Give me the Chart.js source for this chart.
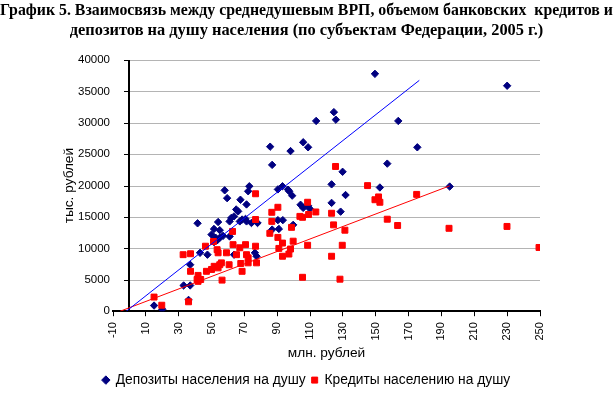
<!DOCTYPE html>
<html>
<head>
<meta charset="utf-8">
<script src="https://cdn.jsdelivr.net/npm/chart.js@4.4.0/dist/chart.umd.min.js"></script>
<style>
  html, body { margin: 0; padding: 0; background: #fff; }
</style>
</head>
<body>
<canvas id="chart" width="613" height="397"></canvas>
<script>
// Deposits per capita (x = GRP per capita, y = thousand rub)
const depX = [15, 20, 33, 37, 36, 37, 43, 47.5, 41.5, 50, 51.5, 55, 52.5, 55, 57, 61, 53.5, 51.5, 54,
  58, 59.5, 61, 62, 63.7, 65, 66.2, 67.6, 67.2, 68.6, 70.7, 71.3, 71.3, 72.3, 73, 74.3, 78, 63.7, 76.4, 77.4,
  85.7, 86.9, 90.4, 93.2, 96.6, 97.3, 99.1, 98.1, 105.8, 108.8, 113.7, 104.2, 105.8, 108.8, 109.9,
  90.4, 93.4, 99.7, 86.9, 91, 123.1, 123.1, 124.5, 125.7, 128.6, 129.8, 131.6, 149.5, 152.5, 157,
  163.7, 175.3, 195, 230];
const depY = [900, 300, 4100, 4100, 1800, 7400, 9300, 9000, 14000, 12200, 13100, 12900, 11700, 11700, 12000, 11900, 11300, 11000, 14200,
  19250, 18000, 14300, 14850, 15100, 16200, 15900, 17750, 14300, 14600, 14700, 14300, 17000, 19100, 19900, 14050, 14050, 9000, 9300, 8750,
  26200, 23300, 19400, 19900, 19350, 19100, 18400, 25500, 26900, 26100, 30300, 16950, 16450, 16800, 16300,
  14500, 14500, 13750, 13000, 13100, 20200, 17250, 31700, 30500, 15850, 22200, 18500, 37800, 19700, 23500,
  30300, 26100, 19850, 35900];

// Credits per capita
const credX = [15, 19.7, 36, 32.7, 37.2, 37.2, 41.8, 41.2, 43.4, 41.8, 46.3, 46.9, 50, 51.6, 54, 55, 56, 56.4,
  51.2, 53.4, 54, 59.1, 60.7, 63.1, 65.2, 67.2, 67.8, 68.6, 70.7, 71.3, 72.3, 72.3, 76.8, 77.4, 62.8, 76.8, 76.8,
  86.7, 86.7, 85.5, 90.4, 90.4, 93.2, 91, 98.1, 97.1, 93.2, 98.7, 99.7, 103.8, 105.4, 108.5, 109.1, 113.5, 108.5, 105.4,
  123.1, 124.3, 123.1, 125.5, 128.2, 129.6, 131.2, 145, 149.5, 151.7, 152.5, 157, 163.3, 174.9, 194.6, 229.9, 249.4];
const credY = [2250, 950, 1500, 9000, 9150, 6350, 5700, 5050, 5050, 4750, 10350, 6350, 6650, 7150, 6900, 7400, 7700, 4950,
  11100, 9800, 9300, 9300, 7400, 10600, 9000, 10100, 7600, 6350, 10600, 9000, 8500, 7700, 10350, 7700, 12700, 14600, 18700,
  15750, 14300, 12400, 16550, 11750, 10850, 10000, 9900, 9100, 8750, 13350, 11150, 15100, 14950, 17350, 15400, 15800, 10500, 5400,
  15600, 13750, 8750, 23050, 5100, 10500, 12900, 20000, 17750, 18200, 17350, 14650, 13650, 18600, 13200, 13500, 10150];

// linear trend lines (end points)
const trendDepX = [-1.9, 176.5];
const trendDepY = [0, 36760];
const trendCredX = [-5.6, 195];
const trendCredY = [0, 19960];

const xTicks = [-10, 10, 30, 50, 70, 90, 110, 130, 150, 170, 190, 210, 230, 250];

const toPoints = (xs, ys) => xs.map((x, i) => ({ x: x, y: ys[i] }));

// gridlines from x = 0 and the vertical axis crossing there
const zeroAxis = {
  id: 'zeroAxis',
  beforeDatasetsDraw(chart) {
    const { ctx, chartArea, scales: { x, y } } = chart;
    const x0 = Math.round(x.getPixelForValue(0));
    ctx.save();
    ctx.strokeStyle = '#b4b4b4';
    ctx.lineWidth = 1;
    y.ticks.forEach((t) => {
      if (t.value === 0) return;
      const py = Math.round(y.getPixelForValue(t.value)) + 0.5;
      ctx.beginPath();
      ctx.moveTo(x0, py);
      ctx.lineTo(chartArea.right, py);
      ctx.stroke();
    });
    ctx.strokeStyle = '#000';
    ctx.lineWidth = 2;
    ctx.beginPath();
    ctx.moveTo(x0, chartArea.bottom);
    ctx.lineTo(x0, chartArea.top);
    ctx.stroke();
    ctx.lineWidth = 1;
    y.ticks.forEach((t) => {
      const py = Math.round(y.getPixelForValue(t.value)) + 0.5;
      ctx.beginPath();
      ctx.moveTo(x0 - 5, py);
      ctx.lineTo(x0, py);
      ctx.stroke();
    });
    ctx.restore();
  }
};

const sans = 'Arial, "Liberation Sans", sans-serif';

new Chart(document.getElementById('chart'), {
  type: 'scatter',
  data: {
    datasets: [
      {
        label: 'Депозиты населения на душу',
        data: toPoints(depX, depY),
        pointStyle: 'rectRot',
        pointRadius: 3.7,
        borderWidth: 1,
        backgroundColor: '#000080',
        borderColor: '#000080',
        order: 3
      },
      {
        label: 'Кредиты населению на душу',
        data: toPoints(credX, credY),
        pointStyle: 'rect',
        pointRadius: 4.2,
        borderWidth: 1,
        backgroundColor: '#ff0000',
        borderColor: '#ff0000',
        order: 2
      },
      {
        label: 'trend-dep',
        data: toPoints(trendDepX, trendDepY),
        showLine: true,
        pointRadius: 0,
        borderColor: '#0000ff',
        borderWidth: 1,
        order: 1
      },
      {
        label: 'trend-cred',
        data: toPoints(trendCredX, trendCredY),
        showLine: true,
        pointRadius: 0,
        borderColor: '#ff0000',
        borderWidth: 1,
        order: 1
      }
    ]
  },
  options: {
    responsive: false,
    animation: false,
    layout: { padding: 0 },
    scales: {
      x: {
        type: 'linear',
        min: -10,
        max: 250,
        afterBuildTicks: (scale) => { scale.ticks = xTicks.map((v) => ({ value: v })); },
        afterFit: (scale) => { scale.height = 56; },
        border: { display: true, color: '#000', width: 2 },
        grid: { drawOnChartArea: false, drawTicks: true, tickLength: 5, color: '#000', lineWidth: 1 },
        ticks: {
          autoSkip: false,
          minRotation: 90,
          maxRotation: 90,
          padding: 6,
          color: '#000',
          font: { family: sans, size: 11 },
          callback: (v) => String(v)
        },
        title: {
          display: true,
          text: 'млн. рублей',
          color: '#000',
          font: { family: sans, size: 13.7 },
          padding: { top: 0, bottom: 6 }
        }
      },
      y: {
        min: 0,
        max: 40000,
        afterFit: (scale) => { scale.width = 113; },
        border: { display: false },
        grid: { display: false, drawTicks: false, tickLength: 0 },
        ticks: {
          stepSize: 5000,
          mirror: true,
          crossAlign: 'far',
          padding: -35,
          color: '#000',
          font: { family: sans, size: 11.5 },
          callback: (v) => String(v)
        },
        title: {
          display: true,
          text: 'тыс. рублей',
          color: '#000',
          font: { family: sans, size: 13.7 },
          padding: { top: 61, bottom: 0 }
        }
      },
      // empty right-hand axis that only reserves the margin on the right
      yPad: {
        position: 'right',
        afterFit: (scale) => { scale.width = 73; },
        border: { display: false },
        grid: { display: false },
        ticks: { display: false }
      }
    },
    plugins: {
      title: {
        display: true,
        text: [
          'График 5. Взаимосвязь между среднедушевым ВРП, объемом банковских  кредитов и',
          'депозитов на душу населения (по субъектам Федерации, 2005 г.)'
        ],
        color: '#000',
        font: { family: '"Liberation Serif", "Times New Roman", serif', size: 16.4, weight: 'bold', lineHeight: 1.22 },
        padding: { top: 1, bottom: 19 }
      },
      legend: {
        position: 'bottom',
        labels: {
          usePointStyle: true,
          boxWidth: 6,
          boxHeight: 6,
          padding: 6,
          color: '#000',
          font: { family: sans, size: 13.8 },
          filter: (item) => item.datasetIndex < 2,
          sort: (a, b) => a.datasetIndex - b.datasetIndex
        }
      },
      tooltip: { enabled: false }
    }
  },
  plugins: [zeroAxis]
});
</script>
</body>
</html>
